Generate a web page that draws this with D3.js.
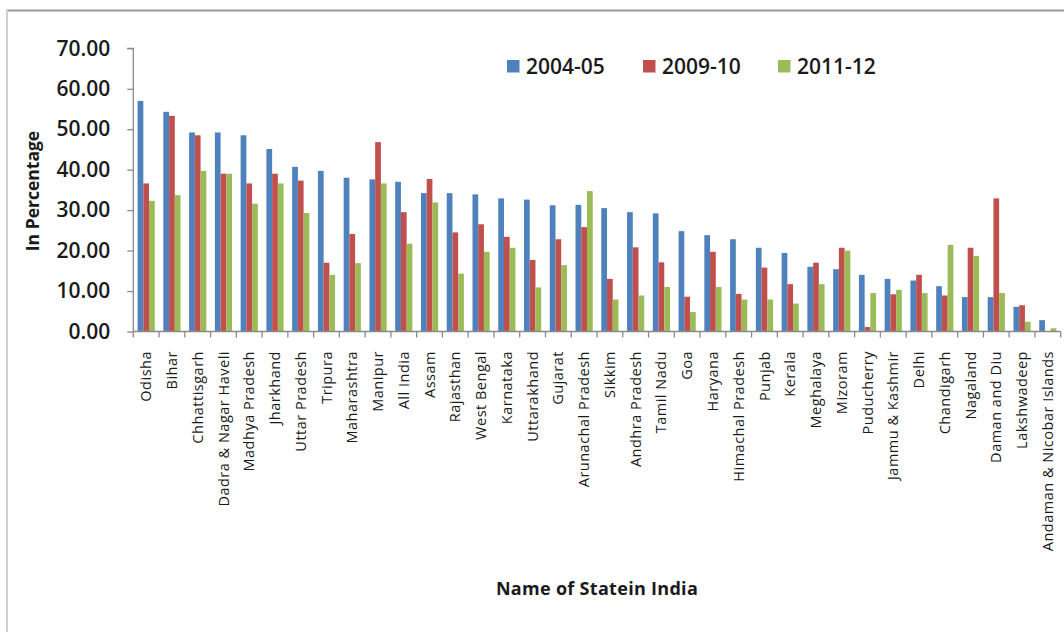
<!DOCTYPE html>
<html><head><meta charset="utf-8">
<script src="https://cdn.jsdelivr.net/npm/d3@7"></script>
<style>body{margin:0;background:#fff}svg{display:block}</style>
</head><body>
<script>
const categories = ["Odisha","Bihar","Chhattisgarh","Dadra & Nagar Haveli","Madhya Pradesh","Jharkhand","Uttar Pradesh","Tripura","Maharashtra","Manipur","All India","Assam","Rajasthan","West Bengal","Karnataka","Uttarakhand","Gujarat","Arunachal Pradesh","Sikkim","Andhra Pradesh","Tamil Nadu","Goa","Haryana","Himachal Pradesh","Punjab","Kerala","Meghalaya","Mizoram","Puducherry","Jammu & Kashmir","Delhi","Chandigarh","Nagaland","Daman and Diu","Lakshwadeep","Andaman & Nicobar Islands"];
const seriesNames = ["2004-05","2009-10","2011-12"];
const s2004 = [57.0,54.3,49.2,49.2,48.5,45.1,40.7,39.7,38.0,37.6,37.0,34.2,34.2,33.9,32.9,32.6,31.2,31.3,30.5,29.5,29.2,24.8,23.8,22.8,20.7,19.4,16.0,15.4,14.0,13.0,12.6,11.2,8.5,8.5,6.1,2.8];
const s2009 = [36.6,53.3,48.5,39.0,36.6,39.0,37.3,17.0,24.1,46.8,29.5,37.7,24.5,26.5,23.4,17.7,22.8,25.8,13.0,20.8,17.1,8.6,19.7,9.3,15.8,11.7,17.0,20.7,1.1,9.2,14.0,8.9,20.7,32.9,6.5,0];
const s2011 = [32.3,33.7,39.7,39.0,31.6,36.6,29.3,14.0,16.9,36.6,21.7,31.9,14.3,19.7,20.7,10.9,16.4,34.7,7.9,8.9,11.0,4.8,11.0,7.9,7.9,6.9,11.7,20.0,9.5,10.3,9.5,21.4,18.7,9.5,2.4,0.8];
const yTicks = [0,10,20,30,40,50,60,70];
const colors = ["#4F81BD","#C0504D","#9BBB59"];
const seriesValues = [s2004, s2009, s2011];

const W = 1064, H = 632;
const svg = d3.select("body").append("svg").attr("width", W).attr("height", H);
const font = "'Open Sans', 'DejaVu Sans', sans-serif";

// frame
svg.append("line").attr("x1",6).attr("x2",W).attr("y1",10.5).attr("y2",10.5).attr("stroke","#9a9a9a").attr("stroke-width",2);
svg.append("line").attr("x1",7).attr("x2",7).attr("y1",10).attr("y2",H).attr("stroke","#cfcfcf").attr("stroke-width",2);

const x0 = d3.scaleBand().domain(categories).range([133.3, 1060.7]).padding(0);
const x1 = d3.scaleBand().domain(seriesNames).range([0, x0.bandwidth()]).paddingInner(0).paddingOuter(0.75);
const y = d3.scaleLinear().domain([0,70]).range([331.5, 48.3]);

// bars
const g = svg.append("g");
seriesNames.forEach((s, si) => {
  g.selectAll(".b"+si).data(categories).enter().append("rect")
    .attr("x", c => x0(c) + x1(s))
    .attr("width", x1.bandwidth())
    .attr("y", (c,i) => y(seriesValues[si][i]))
    .attr("height", (c,i) => y(0) - y(seriesValues[si][i]))
    .attr("fill", colors[si]);
});

// y axis
const yAxis = d3.axisLeft(y).tickValues(yTicks).tickFormat(d3.format(".2f")).tickSize(6).tickPadding(17);
const ya = svg.append("g").attr("transform","translate(133.3,0)").call(yAxis);
ya.select(".domain").attr("stroke","#8a8a8a").attr("stroke-width",1.3).attr("d", `M-6,${y(70)}H0V${y(0)}`);
ya.selectAll(".tick line").attr("stroke","#8a8a8a").attr("stroke-width",1.3);
ya.selectAll(".tick text").attr("font-family",font).attr("font-size",21).attr("font-weight",600).attr("fill","#1a1a1a");

// x axis line + ticks at category boundaries
const xa = svg.append("g");
xa.append("line").attr("x1",133.3).attr("x2",1060.7).attr("y1",y(0)).attr("y2",y(0)).attr("stroke","#8a8a8a").attr("stroke-width",1.3);
const bounds = categories.map(c => x0(c)).concat([x0.range()[1]]);
xa.selectAll(".xt").data(bounds).enter().append("line")
  .attr("x1",d=>d).attr("x2",d=>d).attr("y1",y(0)).attr("y2",y(0)+6)
  .attr("stroke","#8a8a8a").attr("stroke-width",1.3);
xa.selectAll(".xl").data(categories).enter().append("text")
  .attr("transform", c => `translate(${x0(c)+x0.bandwidth()/2},351) rotate(-90)`)
  .attr("text-anchor","end").attr("dy","0.35em")
  .attr("font-family",font).attr("font-size",14.5).attr("letter-spacing","0.5px").attr("fill","#1a1a1a")
  .text(c => c);

// axis titles
svg.append("text").attr("transform","translate(33,191) rotate(-90)").attr("text-anchor","middle").attr("dy","0.35em")
  .attr("font-family",font).attr("font-size",17.5).attr("font-weight",700).attr("fill","#1a1a1a").text("In Percentage");
svg.append("text").attr("x",597).attr("y",589).attr("text-anchor","middle").attr("dy","0.35em")
  .attr("font-family",font).attr("font-size",18).attr("letter-spacing","0.3px").attr("font-weight",700).attr("fill","#1a1a1a").text("Name of Statein India");

// legend
const legX = [507, 643, 778];
const leg = svg.append("g");
seriesNames.forEach((s,i) => {
  leg.append("rect").attr("x",legX[i]).attr("y",60).attr("width",12.5).attr("height",12.5).attr("fill",colors[i]);
  leg.append("text").attr("x",legX[i]+19).attr("y",73.5).attr("font-family",font).attr("font-size",21).attr("font-weight",600).attr("fill","#1a1a1a").text(s);
});
</script>
</body></html>
